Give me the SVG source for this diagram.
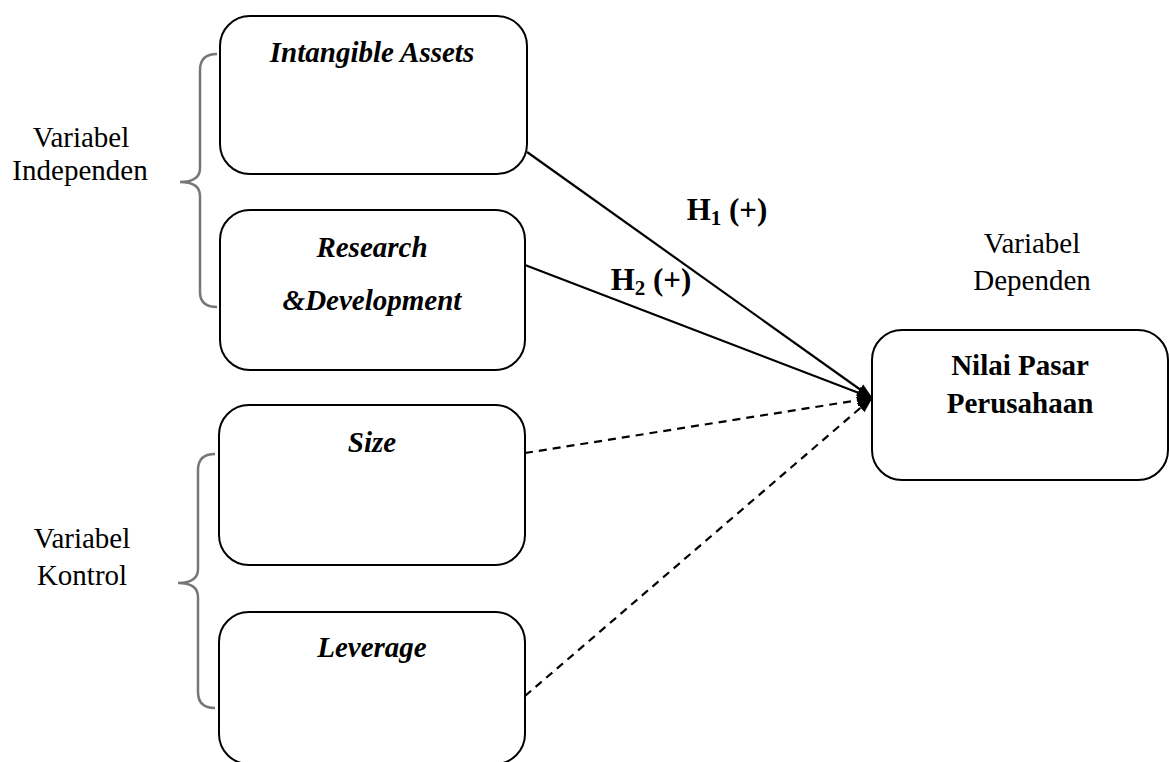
<svg xmlns="http://www.w3.org/2000/svg" width="1169" height="762" viewBox="0 0 1169 762">
<style>
.box{fill:#fff;stroke:#000;stroke-width:2}
.t{font-family:"Liberation Serif","Times New Roman",serif;font-size:29px;fill:#000;text-anchor:middle}
.bi{font-weight:bold;font-style:italic}
.b{font-weight:bold}
.h{font-size:31px}
.sub{font-size:21px}
.brace{fill:none;stroke:#777;stroke-width:2.5}
.ln{stroke:#000;stroke-width:2.2;fill:none}
.dash{stroke-dasharray:8,6}
</style>
<defs>
<marker id="arr" markerWidth="16" markerHeight="14" refX="15" refY="7" orient="auto" markerUnits="userSpaceOnUse">
<path d="M0,1 L16,7 L0,13 Z" fill="#000"/>
</marker>
</defs>
<rect width="1169" height="762" fill="#fff"/>
<g id="connectors">
<line class="ln" x1="527" y1="152" x2="872" y2="398" marker-end="url(#arr)"/>
<line class="ln" x1="525" y1="265" x2="872" y2="398" marker-end="url(#arr)"/>
<line class="ln dash" x1="525" y1="453" x2="872" y2="398" marker-end="url(#arr)"/>
<line class="ln dash" x1="525" y1="696" x2="872" y2="398" marker-end="url(#arr)"/>
</g>
<g id="brace-independen">
<path class="brace" d="M217,54 Q200,54 200,70 L200,168 Q200,182 180,182 Q200,182 200,196 L200,292 Q200,307 217,307"/>
<text class="t" x="81" y="147">Variabel</text>
<text class="t" x="80" y="180">Independen</text>
</g>
<g id="brace-kontrol">
<path class="brace" d="M215,454 Q198,454 198,470 L198,569 Q198,583 178,583 Q198,583 198,597 L198,692 Q198,708 215,708"/>
<text class="t" x="82" y="548">Variabel</text>
<text class="t" x="82" y="585">Kontrol</text>
</g>
<g id="node-intangible">
<rect class="box" x="220" y="16" width="307" height="158" rx="30"/>
<text class="t bi" x="372" y="62">Intangible Assets</text>
</g>
<g id="node-research">
<rect class="box" x="220" y="210" width="305" height="160" rx="30"/>
<text class="t bi" x="372" y="257">Research</text>
<text class="t bi" x="372" y="310">&amp;Development</text>
</g>
<g id="node-size">
<rect class="box" x="219" y="405" width="306" height="160" rx="30"/>
<text class="t bi" x="372" y="452">Size</text>
</g>
<g id="node-leverage">
<rect class="box" x="219" y="612" width="306" height="152" rx="30"/>
<text class="t bi" x="372" y="657">Leverage</text>
</g>
<g id="node-nilai">
<rect class="box" x="872" y="330" width="296" height="150" rx="30"/>
<text class="t b" x="1020" y="375">Nilai Pasar</text>
<text class="t b" x="1020" y="413">Perusahaan</text>
</g>
<g id="label-dependen">
<text class="t" x="1032" y="253">Variabel</text>
<text class="t" x="1032" y="290">Dependen</text>
</g>
<g id="labels">
<text class="t b h" x="727" y="220">H<tspan class="sub" dy="5">1</tspan><tspan dy="-5"> (+)</tspan></text>
<text class="t b h" x="651" y="290">H<tspan class="sub" dy="5">2</tspan><tspan dy="-5"> (+)</tspan></text>
</g>
</svg>
